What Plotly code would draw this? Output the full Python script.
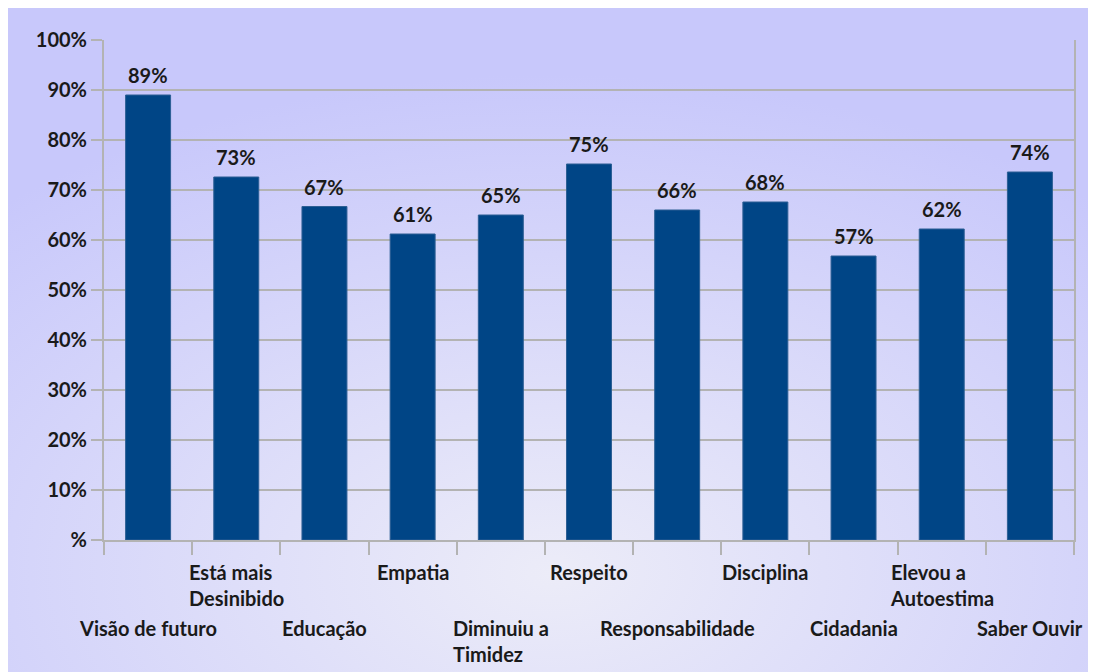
import base64
import plotly.graph_objects as go

categories = [
    "Visão de futuro", "Está mais<br>Desinibido", "Educação", "Empatia",
    "Diminuiu a<br>Timidez", "Respeito", "Responsabilidade", "Disciplina",
    "Cidadania", "Elevou a<br>Autoestima", "Saber Ouvir",
]
values = [89.0, 72.6, 66.7, 61.2, 65.0, 75.2, 66.0, 67.6, 56.8, 62.2, 73.6]
value_labels = ["89%", "73%", "67%", "61%", "65%", "75%", "66%", "68%", "57%", "62%", "74%"]
y_ticks = [0, 10, 20, 30, 40, 50, 60, 70, 80, 90, 100]
y_tick_labels = ["%", "10%", "20%", "30%", "40%", "50%", "60%", "70%", "80%", "90%", "100%"]

FONT = "Lato"
TEXT = "#1a1a1a"
GRID = "#b3b3b3"

# lavender background with a soft light glow, as an svg gradient
svg = (
    '<svg xmlns="http://www.w3.org/2000/svg" width="1088" height="664">'
    '<defs><radialGradient id="g" cx="0.5" cy="0.85" r="0.75">'
    '<stop offset="0" stop-color="#ececf8"/>'
    '<stop offset="1" stop-color="#c8c8fb"/>'
    '</radialGradient></defs>'
    '<rect width="1088" height="664" fill="url(#g)"/></svg>'
)
bg = "data:image/svg+xml;base64," + base64.b64encode(svg.encode()).decode()

fig = go.Figure()

fig.add_trace(
    go.Bar(
        x=categories,
        y=values,
        marker=dict(color="#004586", line=dict(color="#2d5f94", width=1)),
        width=0.51,
        hoverinfo="skip",
    )
)

# value labels above the bars
for cat, v, lab in zip(categories, values, value_labels):
    fig.add_annotation(
        x=cat, y=v, text=lab,
        showarrow=False, yanchor="bottom", yshift=6,
        font=dict(family=FONT, size=20, color=TEXT, weight="bold"),
    )

# staggered category labels
for i, cat in enumerate(categories):
    fig.add_annotation(
        x=cat,
        y=-0.036 if i % 2 else -0.148,
        xref="x",
        yref="paper",
        text=cat,
        showarrow=False,
        xanchor="center",
        yanchor="top",
        align="left",
        font=dict(family=FONT, size=20, color=TEXT, weight="bold"),
    )

fig.add_layout_image(
    source=bg,
    xref="paper", yref="paper",
    x=-0.099, y=1.064,
    sizex=1.122, sizey=1.328,
    sizing="stretch",
    xanchor="left", yanchor="top",
    layer="below",
)

fig.update_layout(
    width=1088,
    height=664,
    margin=dict(l=96, r=22, t=32, b=132),
    paper_bgcolor="white",
    plot_bgcolor="rgba(0,0,0,0)",
    showlegend=False,
    xaxis=dict(
        type="category",
        range=[-0.5, len(categories) - 0.5],
        showticklabels=False,
        tickson="boundaries",
        ticks="outside",
        ticklen=13,
        tickcolor=GRID,
        tickwidth=2,
        showline=True,
        linecolor=GRID,
        linewidth=2,
        showgrid=False,
        zeroline=False,
        fixedrange=True,
    ),
    yaxis=dict(
        range=[0, 100],
        tickvals=y_ticks,
        ticktext=y_tick_labels,
        ticks="outside",
        ticklen=11,
        tickcolor=GRID,
        tickwidth=2,
        showline=True,
        mirror=True,
        linecolor=GRID,
        linewidth=2,
        showgrid=True,
        gridcolor=GRID,
        gridwidth=2,
        zeroline=False,
        tickfont=dict(family=FONT, size=20, color=TEXT, weight="bold"),
        fixedrange=True,
    ),
)

fig.write_html("out.html")
